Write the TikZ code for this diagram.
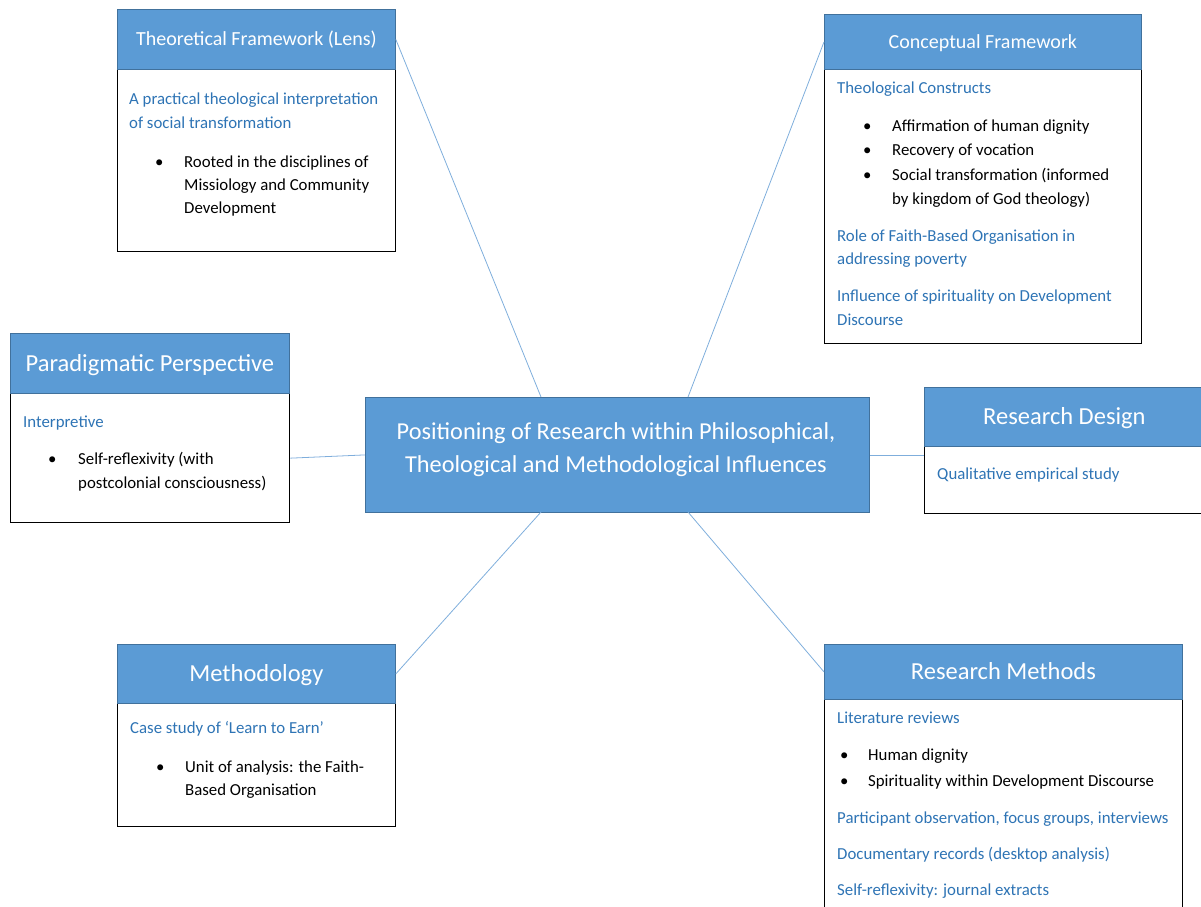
\documentclass[tikz,border=0pt]{standalone}
\usepackage{fontspec}
\setmainfont{Carlito}
\usetikzlibrary{calc}
\definecolor{hdfill}{HTML}{5B9BD5}
\definecolor{hdline}{HTML}{41719C}
\definecolor{subblue}{HTML}{2E74B5}
\definecolor{conn}{HTML}{7FAEDC}
\begin{document}
\begin{tikzpicture}[x=1pt,y=-1pt,
  head/.style={draw=hdline, line width=0.8pt, fill=hdfill, text=white, anchor=north west, inner sep=0pt, text depth=0pt},
  hdsmall/.style={head, font=\fontsize{20}{24}\selectfont, text height=12.9pt},
  hdbig/.style={head, font=\fontsize{24.5}{28}\selectfont, text height=15.8pt},
  bodybox/.style={draw=black, line width=1.3pt, fill=white, anchor=north west, inner sep=0pt},
  sub/.style={anchor=base west, inner sep=0pt, text=subblue, font=\fontsize{16.8}{19}\selectfont},
  txt/.style={anchor=base west, inner sep=0pt, text=black, font=\fontsize{16.8}{19}\selectfont},
  bul/.style={anchor=base west, inner sep=0pt, text=black, font=\fontsize{16.8}{19}\selectfont},
  link/.style={draw=conn, line width=0.8pt}]
\useasboundingbox (0,0) rectangle (1201,906);

\coordinate (mTL) at (541,397);
\coordinate (mTR) at (688,397);
\coordinate (mBL) at (541,512);
\coordinate (mBR) at (688,512);

% Theoretical Framework
\node[bodybox, minimum width=278, minimum height=182] (theobody) at (117,69) {};
\node[hdsmall, minimum width=278, minimum height=60] (theohead) at (117,9) {Theoretical Framework (Lens)};
\node[sub] (t1) at (129,104) {A practical theological interpretation};
\node[sub] (t2) at (129,128) {of social transformation};
\node[bul] (tb1) at (155,167) {•};
\node[txt] (t3) at (184,167) {Rooted in the disciplines of};
\node[txt] (t4) at (184,190) {Missiology and Community};
\node[txt] (t5) at (184,213) {Development};

% Conceptual Framework
\node[bodybox, minimum width=317, minimum height=274] (conbody) at (824,69) {};
\node[hdsmall, minimum width=317, minimum height=55] (conhead) at (824,14) {Conceptual Framework};
\node[sub] (c1) at (837,93) {Theological Constructs};
\node[bul] (cb1) at (863,131) {•};
\node[txt] (c2) at (892,131) {Affirmation of human dignity};
\node[bul] (cb2) at (863,155) {•};
\node[txt] (c3) at (892,155) {Recovery of vocation};
\node[bul] (cb3) at (863,180) {•};
\node[txt] (c4) at (892,180) {Social transformation (informed};
\node[txt] (c5) at (892,204) {by kingdom of God theology)};
\node[sub] (c6) at (837,241) {Role of Faith-Based Organisation in};
\node[sub] (c7) at (837,264) {addressing poverty};
\node[sub] (c8) at (837,301) {Influence of spirituality on Development};
\node[sub] (c9) at (837,325) {Discourse};

% Paradigmatic Perspective
\node[bodybox, minimum width=279, minimum height=129] (parbody) at (10,393) {};
\node[hdbig, minimum width=279, minimum height=60] (parhead) at (10,333) {Paradigmatic Perspective};
\node[sub] (p1) at (23,427) {Interpretive};
\node[bul] (pb1) at (48,464) {•};
\node[txt] (p2) at (78,464) {Self-reflexivity (with};
\node[txt] (p3) at (78,488) {postcolonial consciousness)};

% Centre
\node[draw=hdline, line width=0.8pt, fill=hdfill, anchor=north west, minimum width=504, minimum height=115, inner sep=0pt] (main) at (365,397) {};
\node[anchor=base, inner sep=0pt, text=white, font=\fontsize{24.3}{32.5}\selectfont, align=center] (maintext) at (616,472)
  {Positioning of Research within Philosophical,\\Theological and Methodological Influences};

% Research Design
\node[bodybox, minimum width=280, minimum height=67] (rdbody) at (924,446) {};
\node[hdbig, minimum width=280, minimum height=59] (rdhead) at (924,387) {Research Design};
\node[sub] (r1) at (937,479) {Qualitative empirical study};

% Methodology
\node[bodybox, minimum width=278, minimum height=123] (metbody) at (117,703) {};
\node[hdbig, minimum width=278, minimum height=59] (methead) at (117,644) {Methodology};
\node[sub] (m1) at (130,733) {Case study of ‘Learn to Earn’};
\node[bul] (mb1) at (156,772) {•};
\node[txt] (m2) at (185,772) {Unit of analysis: the Faith-};
\node[txt] (m3) at (185,795) {Based Organisation};

% Research Methods
\node[bodybox, minimum width=358, minimum height=220] (rmbody) at (824,699) {};
\node[hdbig, minimum width=358, minimum height=55] (rmhead) at (824,644) {Research Methods};
\node[sub] (s1) at (837,723) {Literature reviews};
\node[bul] (sb1) at (840,760) {•};
\node[txt] (s2) at (868,760) {Human dignity};
\node[bul] (sb2) at (840,786) {•};
\node[txt] (s3) at (868,786) {Spirituality within Development Discourse};
\node[sub] (s4) at (837,823) {Participant observation, focus groups, interviews};
\node[sub] (s5) at (837,859) {Documentary records (desktop analysis)};
\node[sub] (s6) at (837,895) {Self-reflexivity: journal extracts};

% connectors
\draw[link] (theohead.east) -- (mTL);
\draw[link] (conhead.west) -- (mTR);
\draw[link] (parbody.east) -- (main.west);
\draw[link] (main.east) -- (main.east -| rdbody.west);
\draw[link] (mBL) -- (methead.east);
\draw[link] (mBR) -- (rmhead.west);
\end{tikzpicture}
\end{document}
